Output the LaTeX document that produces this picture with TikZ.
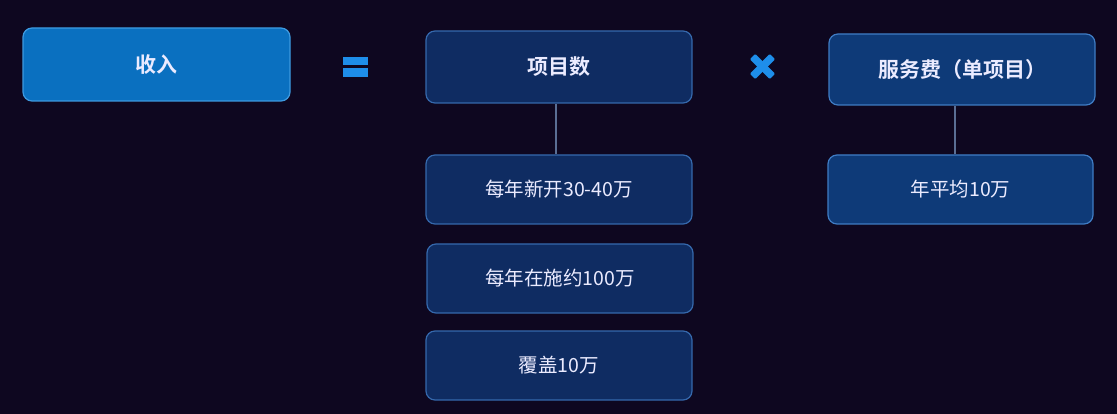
\documentclass[tikz,border=0pt]{standalone}
\usepackage{fontspec}
\setmainfont{Noto Sans CJK SC}[BoldFont={* Bold}]
\begin{document}
\begin{tikzpicture}[x=1pt,y=-1pt,
  base/.style={rounded corners=9pt, line width=1.2pt, text=white!92!blue, inner sep=0pt},
  mainbox/.style={base, fill=mainfill, draw=mainedge, font=\fontsize{21}{24}\selectfont\bfseries},
  hdrbox/.style={base, fill=hdrfill, draw=boxedge, font=\fontsize{21}{24}\selectfont\bfseries},
  hdrboxb/.style={base, fill=hdrfillb, draw=boxedgeb, font=\fontsize{21}{24}\selectfont\bfseries},
  subbox/.style={base, fill=hdrfill, draw=boxedge, font=\fontsize{19.5}{22}\selectfont},
  subboxb/.style={base, fill=hdrfillb, draw=boxedgeb, font=\fontsize{19.5}{22}\selectfont},
  link/.style={draw=linkcol, line width=1.2pt},
  opsym/.style={fill=opcol}]
\definecolor{bg}{HTML}{0E0720}
\definecolor{mainfill}{HTML}{0A70C0}
\definecolor{mainedge}{HTML}{3E9AE0}
\definecolor{hdrfill}{HTML}{0F2C62}
\definecolor{hdrfillb}{HTML}{0E3A78}
\definecolor{boxedge}{HTML}{3568AC}
\definecolor{boxedgeb}{HTML}{3F7CC4}
\definecolor{linkcol}{HTML}{5A6E94}
\definecolor{opcol}{HTML}{1E8EEA}
\fill[bg] (0,0) rectangle (1117,414);
\useasboundingbox (0,0) rectangle (1117,414);

\node[mainbox, minimum width=267pt, minimum height=73pt] (inc) at (156.5,64.5) {收入};
\node[hdrbox, minimum width=266pt, minimum height=72pt] (proj) at (559,67) {项目数};
\node[hdrboxb, minimum width=266pt, minimum height=71pt] (fee) at (962,69.5) {服务费（单项目）};

\node[subbox, minimum width=266pt, minimum height=69pt] (s1) at (559,189.5) {每年新开30-40万};
\node[subbox, minimum width=266pt, minimum height=69pt] (s2) at (560,278.5) {每年在施约100万};
\node[subbox, minimum width=266pt, minimum height=69pt] (s3) at (559,365.5) {覆盖10万};
\node[subboxb, minimum width=265pt, minimum height=69pt] (f1) at (960.5,189.5) {年平均10万};

\draw[link] (proj.south -| 556,0) -- (s1.north -| 556,0);
\draw[link] (fee.south -| 955,0) -- (f1.north -| 955,0);

% equals sign
\fill[opsym] (343,57) rectangle (368,65.5);
\fill[opsym] (343,68.5) rectangle (368,77);
% cross
\fill[opsym, rounded corners=1pt, rotate around={45:(762.5,66.5)}] (748.5,62.7) rectangle (776.5,70.3);
\fill[opsym, rounded corners=1pt, rotate around={-45:(762.5,66.5)}] (748.5,62.7) rectangle (776.5,70.3);
\end{tikzpicture}
\end{document}
